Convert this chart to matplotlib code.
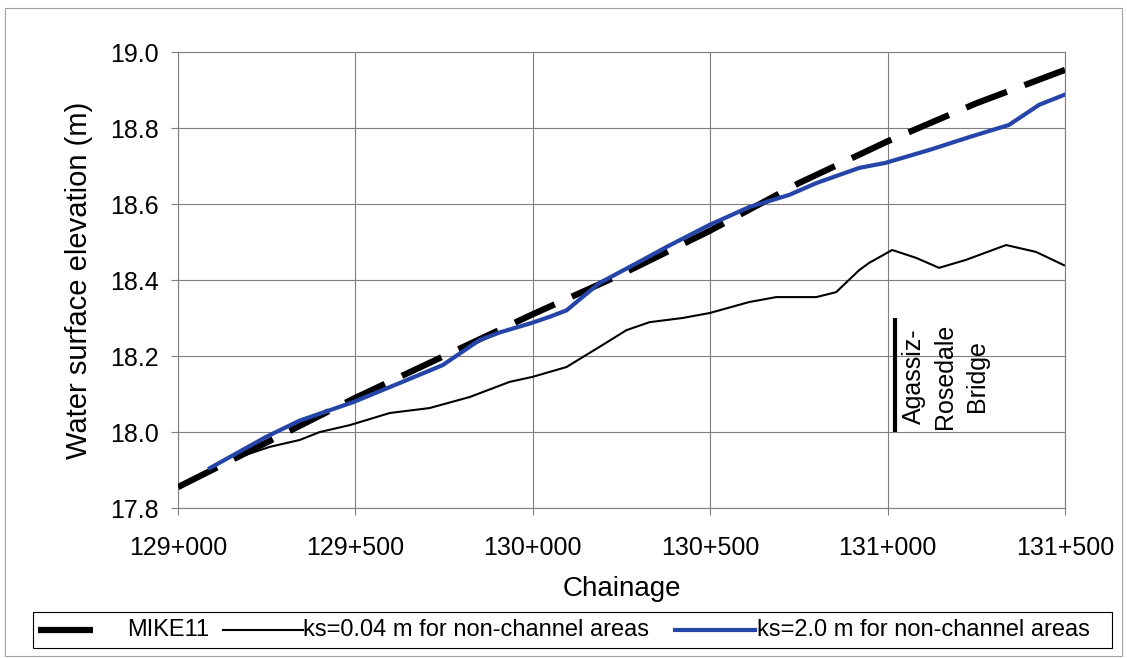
import numpy as np
import matplotlib
matplotlib.use("Agg")
import matplotlib.pyplot as plt
from matplotlib.lines import Line2D
from matplotlib.patches import Rectangle
from matplotlib.ticker import FuncFormatter

plt.rcParams['font.family'] = ['Liberation Sans', 'DejaVu Sans']

# MIKE11 (dashed)
mike_x = [129000, 129500, 130000, 130250, 130500, 130750, 131000, 131250, 131500]
mike_y = [17.855, 18.09, 18.31, 18.415, 18.53, 18.655, 18.765, 18.865, 18.953]

# ks=0.04 m for non-channel areas (thin black)
ks004_x = [129166, 129259, 129343, 129400, 129484, 129597, 129709, 129822, 129935,
           129999, 130095, 130188, 130264, 130329, 130422, 130498, 130610, 130686,
           130799, 130855, 130920, 130948, 131013, 131081, 131145, 131221, 131334,
           131418, 131497]
ks004_y = [17.932, 17.961, 17.979, 18.0, 18.018, 18.05, 18.063, 18.092, 18.132,
           18.145, 18.171, 18.224, 18.268, 18.289, 18.3, 18.313, 18.342, 18.355,
           18.355, 18.368, 18.426, 18.445, 18.479, 18.458, 18.432, 18.453, 18.492,
           18.474, 18.439]

# ks=2.0 m for non-channel areas (blue)
ks20_x = [129090, 129248, 129343, 129495, 129625, 129746, 129850, 129907, 129997,
          130047, 130095, 130140, 130188, 130240, 130310, 130377, 130498, 130610,
          130723, 130799, 130920, 130993, 131117, 131230, 131342, 131427, 131497]
ks20_y = [17.905, 17.987, 18.03, 18.079, 18.129, 18.176, 18.242, 18.262, 18.287,
          18.303, 18.32, 18.355, 18.392, 18.418, 18.453, 18.487, 18.545, 18.592,
          18.624, 18.655, 18.695, 18.708, 18.742, 18.776, 18.808, 18.861, 18.887]

x_ticks = [129000, 129500, 130000, 130500, 131000, 131500]
y_ticks = [17.8, 18.0, 18.2, 18.4, 18.6, 18.8, 19.0]

bridge_x = 131021
bridge_y = [18.0, 18.3]

W, H = 1127, 659
fig = plt.figure(figsize=(W / 100, H / 100), dpi=100)
ax = fig.add_axes([178 / W, 1 - 508 / H, (1065 - 178) / W, (508 - 52) / H])

grey = '#7f7f7f'
ax.plot(mike_x, mike_y, color='black', lw=4.5, dashes=(7, 3), solid_capstyle='butt', zorder=3)
ax.plot(ks004_x, ks004_y, color='black', lw=1.5, zorder=4)
ax.plot(ks20_x, ks20_y, color='#2545a8', lw=3, zorder=5)

# bridge marker
ax.plot([bridge_x, bridge_x], bridge_y, color='black', lw=3, solid_capstyle='butt', zorder=6)
ax.text(131162, 18.147, 'Agassiz-\nRosedale\nBridge', rotation=90, ha='center', va='center',
        multialignment='center', fontsize=18, linespacing=1.4, zorder=6)

ax.set_xlim(129000, 131500)
ax.set_ylim(17.8, 19.0)
ax.set_xticks(x_ticks)
ax.set_yticks(y_ticks)
ax.xaxis.set_major_formatter(FuncFormatter(lambda v, p: f"{int(round(v)) // 1000}+{int(round(v)) % 1000:03d}"))
ax.yaxis.set_major_formatter(FuncFormatter(lambda v, p: f"{v:.1f}"))
ax.grid(True, color=grey, lw=0.8)
ax.set_axisbelow(True)
for s in ax.spines.values():
    s.set_color(grey)
    s.set_linewidth(0.8)
ax.tick_params(axis='both', direction='out', length=5, width=0.8, color=grey, labelsize=18)
ax.tick_params(axis='x', pad=15)
ax.tick_params(axis='y', pad=9)
ax.set_xlabel('Chainage', fontsize=20, labelpad=12)
ax.set_ylabel('Water surface elevation (m)', fontsize=21, labelpad=12)

# legend drawn by hand (entries sit tight against their handles)
def fx(px):
    return px / W

def fy(py):
    return 1 - py / H

fig.patches.append(Rectangle((fx(33), fy(648)), fx(1112) - fx(33), fy(612) - fy(648),
                             transform=fig.transFigure, fill=False, edgecolor='black', lw=0.8))
ly = fy(630)
fig.lines.append(Line2D([fx(38), fx(93)], [ly, ly], transform=fig.transFigure, color='black', lw=4.5,
                        solid_capstyle='butt'))
fig.text(fx(127), ly, 'MIKE11', fontsize=17, va='center', ha='left')
fig.lines.append(Line2D([fx(223), fx(303)], [ly, ly], transform=fig.transFigure, color='black', lw=1.5))
fig.text(fx(303), ly, 'ks=0.04 m for non-channel areas', fontsize=17, va='center', ha='left')
fig.lines.append(Line2D([fx(675), fx(755)], [ly, ly], transform=fig.transFigure, color='#2545a8', lw=3))
fig.text(fx(757), ly, 'ks=2.0 m for non-channel areas', fontsize=17, va='center', ha='left')

# thin outer frame of the chart area
fig.patches.append(Rectangle((fx(5), fy(656)), fx(1122) - fx(5), fy(8) - fy(656),
                             transform=fig.transFigure, fill=False, edgecolor='#a0a0a0', lw=0.8))

fig.savefig('out.png', dpi=100)
